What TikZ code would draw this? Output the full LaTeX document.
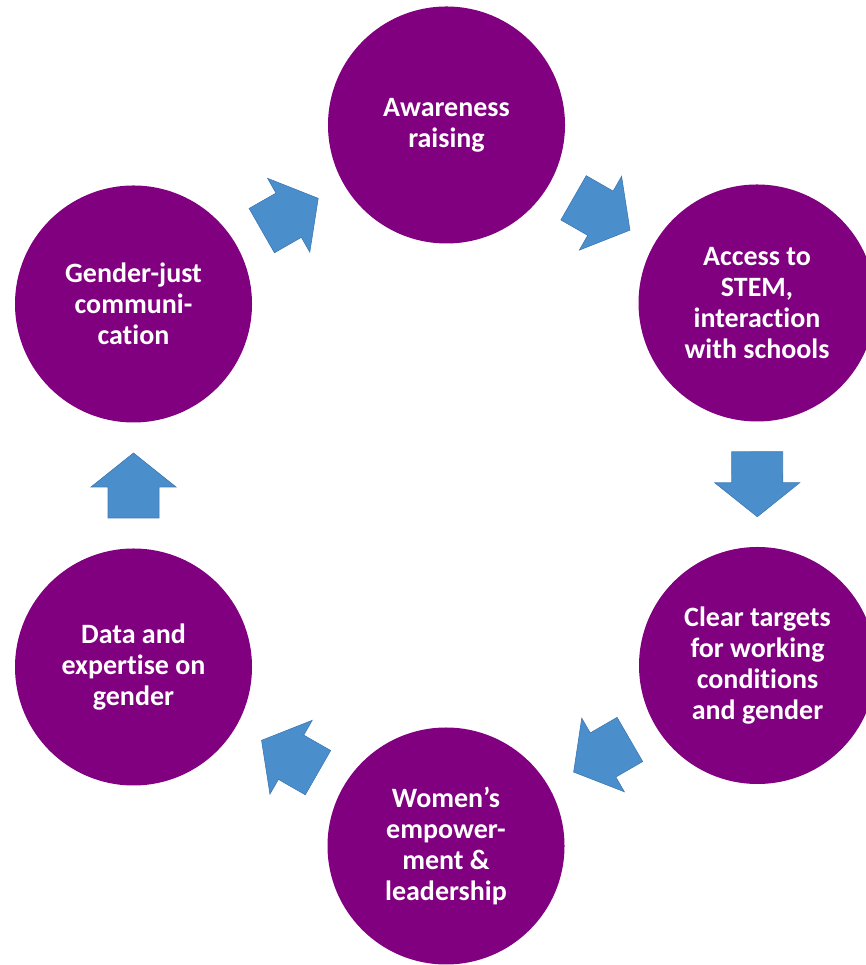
\documentclass[tikz,border=0pt]{standalone}
\usepackage{fontspec}
\setmainfont{Carlito}[Ligatures=NoCommon]
\usetikzlibrary{calc}

\definecolor{stagepurple}{RGB}{128,0,128}
\definecolor{arrowblue}{RGB}{74,143,204}
\definecolor{arrowedge}{RGB}{62,120,180}

\tikzset{
  stage/.style={circle, minimum size=237pt, inner sep=0pt, fill=stagepurple,
    text=white, align=center, font=\bfseries\fontsize{28}{31}\selectfont},
  pics/blockarrow/.style={code={
    \filldraw[fill=arrowblue, draw=arrowedge, line width=0.6pt, line join=miter]
      (-32.5,-25.5) -- (-1.5,-25.5) -- (-1.5,-42.5) -- (32.5,0)
      -- (-1.5,42.5) -- (-1.5,25.5) -- (-32.5,25.5) -- cycle;
  }}
}

% block arrow halfway between two stages, pointing from the first to the second
\newcommand\cyclearrow[2]{%
  \pgfmathanglebetweenpoints{\pgfpointanchor{#1}{center}}{\pgfpointanchor{#2}{center}}%
  \let\arrang\pgfmathresult
  \path ($(#1)!0.5!(#2)$) pic[rotate=\arrang] {blockarrow};%
}

\begin{document}
\begin{tikzpicture}[x=1pt, y=1pt]
  \useasboundingbox (0,0) rectangle (866,965);
  \clip (0,0) rectangle (866,965);

  \node[stage] (aware)  at (446.5,840) {Awareness\\raising};
  \node[stage] (access) at (757,662)     {Access to\\STEM,\\interaction\\with schools};
  \node[stage] (target) at (757.5,299.5) {Clear targets\\for working\\conditions\\and gender};
  \node[stage] (women)  at (446,119)     {Women’s\\empower-\\ment \&\\leadership};
  \node[stage] (data)   at (133.5,298)   {Data and\\expertise on\\gender};
  \node[stage] (comm)   at (133.5,661)   {Gender-just\\communi-\\cation};

  \cyclearrow{comm}{aware}
  \cyclearrow{aware}{access}
  \cyclearrow{access}{target}
  \cyclearrow{target}{women}
  \cyclearrow{women}{data}
  \cyclearrow{data}{comm}
\end{tikzpicture}
\end{document}
